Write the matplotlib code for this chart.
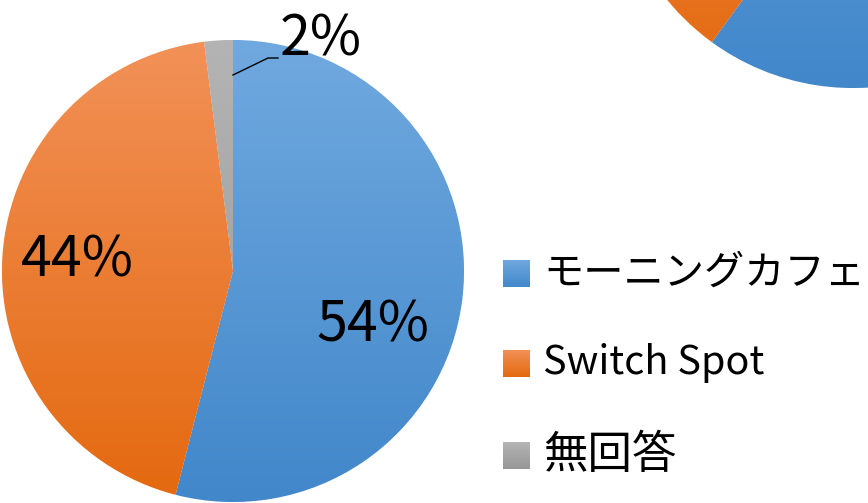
import numpy as np
import matplotlib
matplotlib.use("Agg")
import matplotlib.pyplot as plt
from matplotlib.patches import Rectangle
from matplotlib.colors import LinearSegmentedColormap

plt.rcParams['font.family'] = ['Noto Sans CJK JP', 'DejaVu Sans']

categories = ["モーニングカフェ", "Switch Spot", "無回答"]
values_main = [54, 44, 2]
labels_main = ["54%", "44%", "2%"]
values_second = [60, 38, 2]

grad_top = ["#70A9DF", "#F29158", "#B4B4B4"]
grad_bot = ["#4187CA", "#E4690F", "#979797"]

W, H = 868, 503
fig = plt.figure(figsize=(W / 100, H / 100), dpi=100)
ax = fig.add_axes([0, 0, 1, 1])


def gradient_fill(ax, patch, top, bot, y0, y1, x0, x1):
    cmap = LinearSegmentedColormap.from_list("g", [bot, top])
    grad = np.linspace(0, 1, 256).reshape(-1, 1)
    im = ax.imshow(grad, cmap=cmap, extent=[x0, x1, y0, y1], origin="lower",
                   aspect="auto", zorder=patch.get_zorder() + 0.1)
    im.set_clip_path(patch)


def draw_pie(ax, vals, center, r):
    wedges, _ = ax.pie(vals, center=center, radius=r, startangle=90,
                       counterclock=False, colors=grad_bot,
                       wedgeprops=dict(edgecolor="white", linewidth=0.6),
                       frame=True)
    for w, t, b in zip(wedges, grad_top, grad_bot):
        gradient_fill(ax, w, t, b, center[1] - r, center[1] + r,
                      center[0] - r, center[0] + r)
    return wedges


# main pie
c1 = (233, H - 271)
r1 = 231
draw_pie(ax, values_main, c1, r1)

# second pie (partially visible, top right)
c2 = (853, H + 152)
r2 = 240
draw_pie(ax, values_second, c2, r2)

# data labels
fs_lab = 40
ax.text(373, H - 326, labels_main[0], fontsize=fs_lab, ha="center", va="center", zorder=10)
ax.text(77, H - 261, labels_main[1], fontsize=fs_lab, ha="center", va="center", zorder=10)
ax.text(321, H - 40, labels_main[2], fontsize=fs_lab, ha="center", va="center", zorder=10)
ax.plot([233, 268, 278], [H - 75, H - 58, H - 58], color="black", lw=1, zorder=10)

# legend (manual)
leg_y = [273, 363, 455]
leg_fs = [29, 28.5, 32]
for cat, t, b, y, fs in zip(categories, grad_top, grad_bot, leg_y, leg_fs):
    rect = Rectangle((503, H - y - 13.5), 27, 27, facecolor=b, edgecolor="none", zorder=5)
    ax.add_patch(rect)
    gradient_fill(ax, rect, t, b, H - y - 13.5, H - y + 13.5, 503, 530)
    ax.text(543, H - y, cat, fontsize=fs, ha="left", va="center", zorder=10)

ax.set_xlim(0, W)
ax.set_ylim(0, H)
ax.set_aspect("auto")
ax.axis("off")
fig.savefig("out.png", dpi=100)
